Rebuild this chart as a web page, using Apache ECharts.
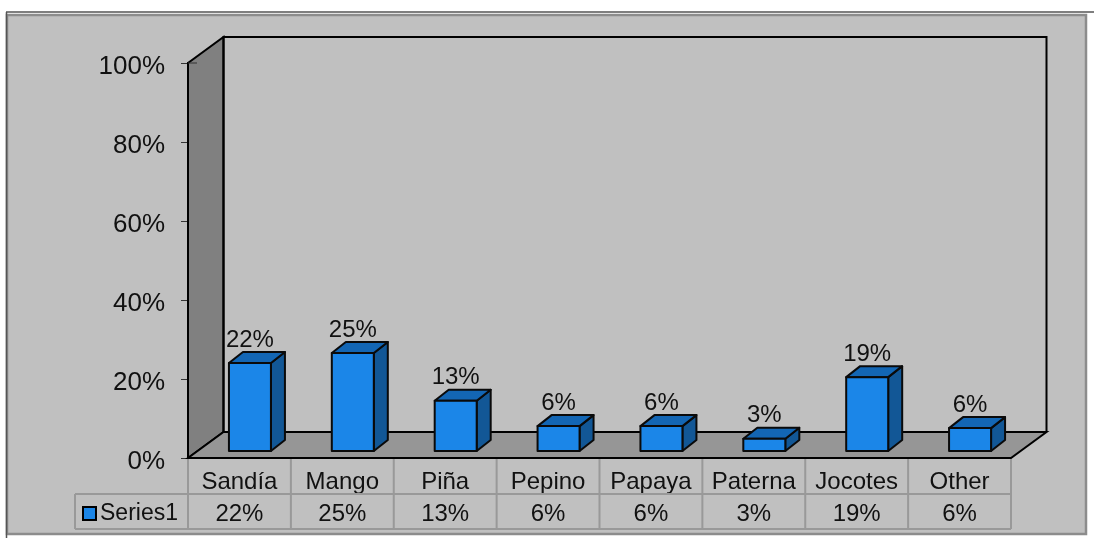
<!DOCTYPE html>
<html><head><meta charset="utf-8">
<style>html,body{margin:0;padding:0;background:#fff}#c{width:1094px;height:538px}</style>
<script src="https://cdn.jsdelivr.net/npm/echarts@6/dist/echarts.min.js"></script>
</head><body><div id="c"></div>
<script>
const categories = ['Sandía','Mango','Piña','Pepino','Papaya','Paterna','Jocotes','Other'];
const values = [22.3,24.8,12.7,6.3,6.3,3.1,18.7,5.8];
const tableLabels = ['22%','25%','13%','6%','6%','3%','19%','6%'];
const yTicks = [0,20,40,60,80,100];

const FONT = '"Liberation Sans", Arial, sans-serif';
const WALL_DX = 35.5, WALL_DY = -26;
const BAR_DX = 10.5, BAR_DY = -7, BAR_W = 42, BAR_DEPTH_X = 14, BAR_DEPTH_Y = -11;
const FRONT='#1b86e8', TOP='#1366b4', SIDE='#125796';

function renderFrame(params, api){
  const cs = params.coordSys;
  const l=cs.x, r=cs.x+cs.width, t=cs.y, b=cs.y+cs.height;
  const blk={stroke:'#000',lineWidth:2};
  const tbl={stroke:'#999',lineWidth:2};
  const kids=[
    {type:'polygon',shape:{points:[[l,b],[l+WALL_DX,b+WALL_DY],[l+WALL_DX,t+WALL_DY],[l,t]]},style:{fill:'#808080',stroke:'#000',lineWidth:2}},
    {type:'polygon',shape:{points:[[l,b],[l+WALL_DX,b+WALL_DY],[r+WALL_DX,b+WALL_DY],[r,b]]},style:{fill:'#969696',stroke:'#000',lineWidth:2}},
    {type:'polyline',shape:{points:[[l+WALL_DX,b+WALL_DY],[l+WALL_DX,t+WALL_DY],[r+WALL_DX,t+WALL_DY],[r+WALL_DX,b+WALL_DY]]},style:{fill:null,...blk}},
    {type:'line',shape:{x1:l,y1:t,x2:l+9,y2:t},style:{stroke:'#333',lineWidth:1}}
  ];
  const band=cs.width/categories.length;
  const y1=b+36, y2=b+71, tl=75;
  for(let i=0;i<=categories.length;i++){
    const x=l+band*i;
    kids.push({type:'line',shape:{x1:x,y1:b+1,x2:x,y2:y2},style:tbl});
  }
  kids.push({type:'line',shape:{x1:tl,y1:y1,x2:r,y2:y1},style:tbl});
  kids.push({type:'line',shape:{x1:tl,y1:y2,x2:r,y2:y2},style:tbl});
  kids.push({type:'line',shape:{x1:tl,y1:y1,x2:tl,y2:y2},style:tbl});
  return {type:'group',children:kids};
}
function renderBar(params, api){
  const i=api.value(0), v=api.value(1);
  const p0=api.coord([i,0]), p1=api.coord([i,v]);
  const x0=p0[0]+BAR_DX-BAR_W/2, x1=x0+BAR_W, yb=p0[1]+BAR_DY, yt=p1[1]+BAR_DY;
  const dx=BAR_DEPTH_X, dy=BAR_DEPTH_Y;
  const ln={stroke:'#0a0a0a',lineWidth:2,lineJoin:'round'};
  return {type:'group',children:[
    {type:'polygon',shape:{points:[[x1,yb],[x1+dx,yb+dy],[x1+dx,yt+dy],[x1,yt]]},style:{fill:SIDE,...ln}},
    {type:'polygon',shape:{points:[[x0,yt],[x0+dx,yt+dy],[x1+dx,yt+dy],[x1,yt]]},style:{fill:TOP,...ln}},
    {type:'rect',shape:{x:x0,y:yt,width:BAR_W,height:yb-yt},style:{fill:FRONT,...ln}},
    {type:'text',style:{text:tableLabels[i],x:(x0+x1)/2,y:yt+dy,align:'center',verticalAlign:'bottom',font:'24px '+FONT,fill:'#111'}}
  ]};
}

const chart=echarts.init(document.getElementById('c'),null,{renderer:'canvas'});
chart.setOption({
  animation:false,
  backgroundColor:'#fff',
  textStyle:{fontFamily:FONT},
  grid:{left:188,right:83,top:63,bottom:80},
  graphic:[
    {type:'rect',z:-10,shape:{x:7,y:15,width:1079,height:519},style:{fill:'#c0c0c0',stroke:'#8c8c8c',lineWidth:2.5}},
    {type:'line',z:-9,shape:{x1:6,y1:12,x2:1094,y2:12},style:{stroke:'#555',lineWidth:1.5}},
    {type:'line',z:-9,shape:{x1:6.5,y1:12,x2:6.5,y2:538},style:{stroke:'#555',lineWidth:1.5}}
  ],
  legend:{left:77,top:497,data:['Series1'],icon:'rect',itemWidth:13,itemHeight:13,itemGap:5,
    textStyle:{fontSize:23,color:'#111',fontFamily:FONT,padding:[0,0,0,-1]},selectedMode:false,
    itemStyle:{borderColor:'#000',borderWidth:2}},
  xAxis:[
    {type:'category',data:categories,position:'bottom',axisLine:{show:false},axisTick:{show:false},
     axisLabel:{fontSize:24,color:'#111',margin:12,interval:0,fontFamily:FONT}},
    {type:'category',data:tableLabels,position:'bottom',offset:32,axisLine:{show:false},axisTick:{show:false},
     axisLabel:{fontSize:24,color:'#111',margin:12,interval:0,fontFamily:FONT}}
  ],
  yAxis:{type:'value',min:0,max:100,interval:yTicks[1],
    axisLine:{show:true,lineStyle:{color:'#000',width:2}},
    axisTick:{show:true,length:7,lineStyle:{color:'#333',width:1}},
    splitLine:{show:false},
    axisLabel:{fontSize:26,color:'#111',margin:23,formatter:'{value}%',fontFamily:FONT,verticalAlign:'top',lineHeight:7}},
  series:[
    {name:'frame',type:'custom',silent:true,z:1,renderItem:renderFrame,data:[[0,0]],clip:false},
    {name:'Series1',type:'custom',z:3,renderItem:renderBar,clip:false,
     itemStyle:{color:FRONT},
     encode:{x:0,y:1},
     data:values.map((v,i)=>[i,v])}
  ]
});
</script></body></html>
